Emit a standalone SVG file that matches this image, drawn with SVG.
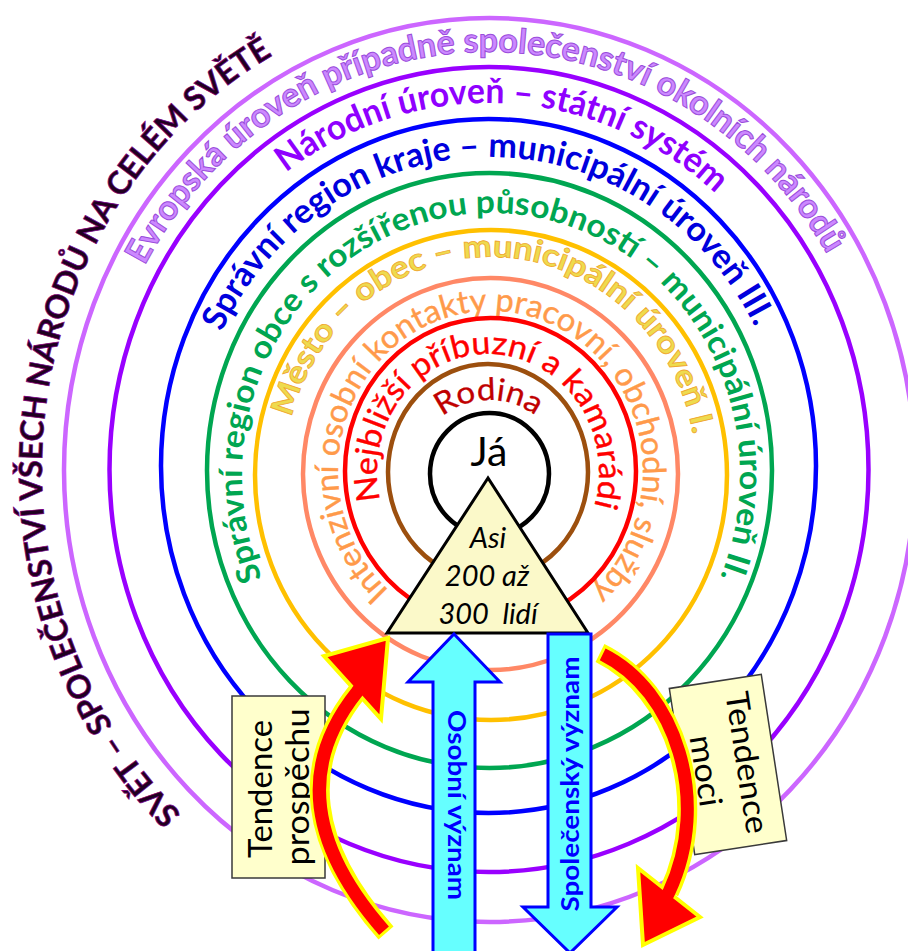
<svg xmlns="http://www.w3.org/2000/svg" width="908" height="951" viewBox="0 0 908 951">
<style>
.ring{fill:none;stroke-width:4.5}
.f{font-family:Lato,"Open Sans","DejaVu Sans",sans-serif}
.b{font-weight:700}
.cyan{fill:#66ffff;stroke:#0000ff;stroke-width:3;stroke-linejoin:miter}
.box{fill:#ffffcc;stroke:#3a3a3a;stroke-width:1.5}
.lbl{font-family:Lato,"Open Sans","DejaVu Sans",sans-serif;font-size:32px;fill:#000}
.tri{font-family:Lato,"Open Sans","DejaVu Sans",sans-serif;font-style:italic;font-size:29px;fill:#000}
.shaftY{fill:none;stroke:#ffff00;stroke-width:20}
.shaftR{fill:none;stroke:#ff0000;stroke-width:13}
.head{fill:#ff0000;stroke:#ffff00;stroke-width:4;stroke-linejoin:miter}
</style>
<defs>
<path id="p-world" d="M 181.4 813.8 A 447.5 474 0 0 1 321.9 30.5"/>
<path id="p-evrop" d="M 144.6 265.8 A 394.5 417.5 0 0 1 849.4 299.7"/>
<path id="p-narod" d="M 286.1 172.7 A 343.5 363 0 0 1 751.6 232.7"/>
<path id="p-kraje" d="M 221.7 332.1 A 298.5 313.5 0 0 1 773.4 373.6"/>
<path id="p-obce" d="M 262.1 578.2 A 249 262 0 1 1 702.2 613.8"/>
<path id="p-mesto" d="M 291.6 417.5 A 206 217 0 0 1 696.4 466.4"/>
<path id="p-intenz" d="M 389.1 590.5 A 152.5 160 0 1 1 575.8 603.6"/>
<path id="p-nejbl" d="M 380.3 500.5 A 111 118 0 1 1 588.6 521.9"/>
<path id="p-rodina" d="M 442.4 416.4 A 76 76 0 0 1 543.2 422.3"/>
</defs>
<rect width="908" height="951" fill="#ffffff"/>

<g id="level-svet">
<text class="f b" font-size="32" fill="#200020" stroke="#800080" stroke-width="0.7"><textPath href="#p-world" textLength="877" lengthAdjust="spacingAndGlyphs">SVĚT – SPOLEČENSTVÍ VŠECH NÁRODŮ NA CELÉM SVĚTĚ</textPath></text>
</g>
<g id="level-evropa">
<ellipse class="ring" cx="489.5" cy="470" rx="425.5" ry="452" stroke="#cc66ff"/>
<text class="f b" font-size="34" fill="#cc88ff" stroke="#9a4ddb" stroke-width="1"><textPath href="#p-evrop" textLength="839" lengthAdjust="spacingAndGlyphs">Evropská úroveň případně společenství okolních národů</textPath></text>
</g>
<g id="level-narod">
<ellipse class="ring" cx="489" cy="469.5" rx="379.5" ry="402.5" stroke="#9900ff"/>
<text class="f b" font-size="35" fill="#8f00ff"><textPath href="#p-narod" textLength="468" lengthAdjust="spacingAndGlyphs">Národní úroveň – státní systém</textPath></text>
</g>
<g id="level-kraj">
<ellipse class="ring" cx="488.5" cy="466" rx="327.5" ry="347" stroke="#0000ff"/>
<text class="f b" font-size="34" fill="#0000dd"><textPath href="#p-kraje" textLength="670" lengthAdjust="spacingAndGlyphs">Správní region kraje – municipální úroveň III.</textPath></text>
</g>
<g id="level-orp">
<ellipse class="ring" cx="489.5" cy="470.5" rx="282.5" ry="297.5" stroke="#00a651"/>
<text class="f b" font-size="32" fill="#00a651"><textPath href="#p-obce" textLength="1013" lengthAdjust="spacingAndGlyphs">Správní region obce s rozšířenou působností – municipální úroveň II.</textPath></text>
</g>
<g id="level-mesto">
<ellipse class="ring" cx="491" cy="475" rx="236" ry="245" stroke="#ffc000"/>
<text class="f b" font-size="31" fill="#eedb4e" stroke="#f0a830" stroke-width="0.8"><textPath href="#p-mesto" textLength="568" lengthAdjust="spacingAndGlyphs">Město – obec – municipální úroveň I.</textPath></text>
</g>
<g id="level-kontakty">
<ellipse class="ring" cx="490.5" cy="474" rx="187.5" ry="196" stroke="#ff8866"/>
<text class="f" font-size="32" fill="#ff9a4a" stroke="#ff9a4a" stroke-width="0.4"><textPath href="#p-intenz" textLength="759" lengthAdjust="spacingAndGlyphs">Intenzivní osobní kontakty pracovní, obchodní, služby</textPath></text>
</g>
<g id="level-pratele">
<ellipse class="ring" cx="490.5" cy="471" rx="145.5" ry="153" stroke="#ff0000"/>
<text class="f" font-size="32" fill="#ff0000" stroke="#ff0000" stroke-width="0.4"><textPath href="#p-nejbl" textLength="423" lengthAdjust="spacingAndGlyphs">Nejbližší příbuzní a kamarádi</textPath></text>
</g>
<g id="level-rodina">
<ellipse class="ring" cx="488" cy="472" rx="100" ry="108" stroke="#9c4f0e"/>
<text class="f" font-size="31" fill="#c00000" stroke="#c00000" stroke-width="0.3"><textPath href="#p-rodina" textLength="100" lengthAdjust="spacingAndGlyphs">Rodina</textPath></text>
</g>
<g id="node-ja">
<ellipse class="ring" cx="489.5" cy="474" rx="59.5" ry="61" stroke="#000000"/>
<text class="f" font-size="41" text-anchor="middle" x="489" y="466">Já</text>
</g>

<g id="node-pyramida">
<polygon points="488,478 387,633 588,633" fill="#fbf9c9" stroke="#000" stroke-width="3"/>
<text class="tri" text-anchor="middle" x="488" y="548">Asi</text>
<text class="tri" text-anchor="middle" x="487" y="586">200 až</text>
<text class="tri" text-anchor="middle" x="488" y="624">300&#160; lidí</text>
</g>

<g id="node-osobni">
<polygon class="cyan" points="454,634 500,682 475,682 475,960 433,960 433,682 408,682"/>
<text class="f b" font-size="25" fill="#0000ff" text-anchor="middle" transform="translate(448,805) rotate(90)" textLength="190" lengthAdjust="spacingAndGlyphs">Osobní význam</text>
</g>
<g id="node-spolecensky">
<polygon class="cyan" points="548,634 591,634 591,907 617,907 570,953 523,907 548,907"/>
<text class="f b" font-size="25" fill="#0000ff" text-anchor="middle" transform="translate(579,784) rotate(-90)" textLength="255" lengthAdjust="spacingAndGlyphs">Společenský význam</text>
</g>

<g id="node-prospech">
<rect class="box" x="232" y="696" width="93" height="182"/>
<text class="lbl" text-anchor="middle" transform="translate(272,789) rotate(-90)" textLength="138" lengthAdjust="spacingAndGlyphs">Tendence</text>
<text class="lbl" text-anchor="middle" transform="translate(309,787) rotate(-90)" textLength="157" lengthAdjust="spacingAndGlyphs">prospěchu</text>
</g>
<g id="node-moc" transform="translate(728,764.5) rotate(-8.7)">
<rect class="box" x="-46.5" y="-84" width="93" height="168"/>
<text class="lbl" text-anchor="middle" transform="translate(8,1) rotate(90)" textLength="143" lengthAdjust="spacingAndGlyphs">Tendence</text>
<text class="lbl" text-anchor="middle" transform="translate(-34,3) rotate(90)" textLength="72" lengthAdjust="spacingAndGlyphs">moci</text>
</g>

<g id="connectors">
<g id="arrow-prospech">
<path class="shaftY" d="M 386 933 Q 270 801 357 692"/>
<polygon class="head" points="388,638 324,656 381,719"/>
<path class="shaftR" d="M 384 930.7 Q 270 801 357 692 L 362 685"/>
</g>
<g id="arrow-moc">
<path class="shaftY" d="M 600 653 C 675 690 712 800 669 892"/>
<polygon class="head" points="643,945 638,868 700,917"/>
<path class="shaftR" d="M 602.7 654.3 C 675 690 712 800 669 892 L 666 898"/>
</g>
</g>
</svg>
